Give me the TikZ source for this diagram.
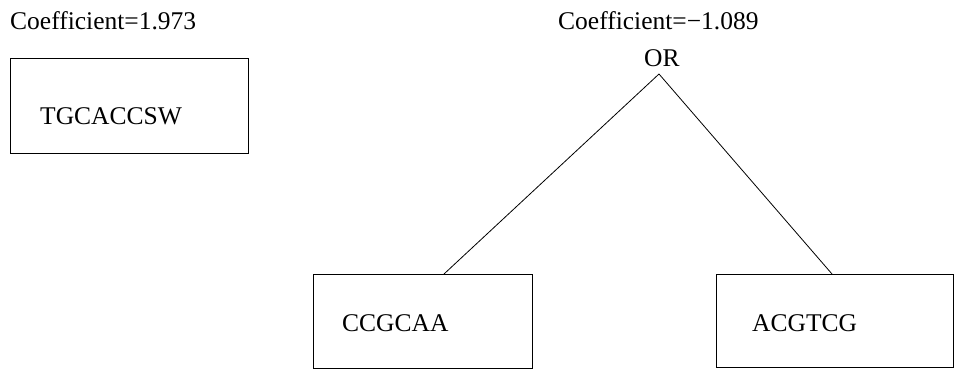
\documentclass[tikz,border=0pt]{standalone}
\usepackage{fontspec}
\setmainfont{Liberation Serif}
\usetikzlibrary{calc}
\tikzset{
  box/.style={draw, line width=1pt, rectangle, inner sep=0pt, anchor=north west},
  lbl/.style={inner sep=0pt, anchor=base west, font=\fontsize{25.5}{30}\selectfont},
  edge/.style={line width=0.8pt}
}
\begin{document}
\begin{tikzpicture}[x=1pt,y=-1pt]
  \useasboundingbox (0,0) rectangle (956,371);
  % left term
  \node[lbl] (c1) at (10,30) {Coefficient=1.973};
  \node[box, minimum width=238pt, minimum height=95pt] (b1) at (10,58) {};
  \node[lbl] (t1) at (40,125) {TGCACCSW};
  % right term: OR of two motifs
  \node[lbl] (c2) at (558,30) {Coefficient=−1.089};
  \node[lbl] (or) at (644,67) {OR};
  \coordinate (apex) at (659,74);
  \node[box, minimum width=219pt, minimum height=94pt] (b2) at (313,274) {};
  \node[lbl] (t2) at (342,332) {CCGCAA};
  \node[box, minimum width=237pt, minimum height=93pt] (b3) at (716,274) {};
  \node[lbl] (t3) at (752,332) {ACGTCG};
  \draw[edge] (apex) -- ($(b2.north west)+(131,0)$);
  \draw[edge] (apex) -- ($(b3.north west)+(116,0)$);
\end{tikzpicture}
\end{document}
